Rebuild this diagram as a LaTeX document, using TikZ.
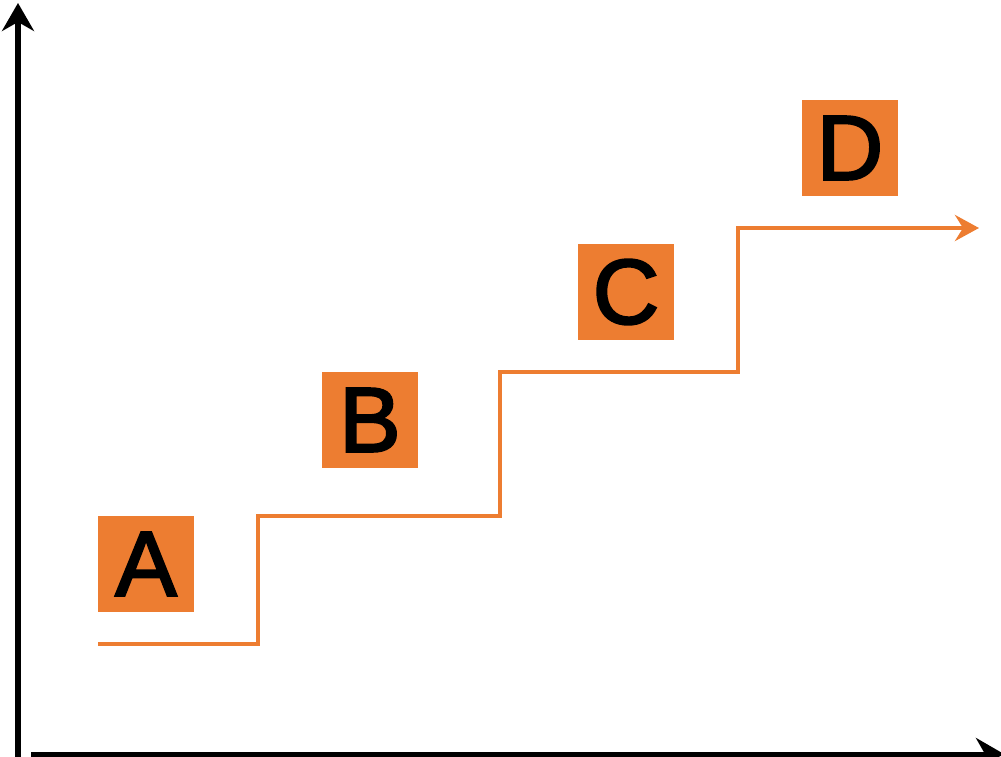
\documentclass[tikz,border=0pt]{standalone}
\usepackage{fontspec}
\setmainfont{Liberation Sans}
\newfontfamily\lblfont[FakeBold=2.5]{Liberation Sans}
\usetikzlibrary{arrows.meta}
\definecolor{orng}{HTML}{ED7D31}
\begin{document}
\begin{tikzpicture}[x=1pt,y=-1pt,
  lbl/.style={fill=orng, minimum size=96pt, inner sep=0pt, font=\lblfont\fontsize{92}{92}\selectfont, text=black},
  stair/.style={draw=orng, line width=4.5pt, miter limit=10, -{Stealth[length=24pt,width=26pt,inset=8pt]}},
  axis/.style={line width=5.5pt, -{Stealth[length=28pt,width=32pt,inset=9pt]}}]
\useasboundingbox (0,0) rectangle (1001,757);
% labels
\node[lbl] (A) at (146,564) {A};
\node[lbl] (B) at (370,420) {B};
\node[lbl] (C) at (626,292) {C};
\node[lbl] (D) at (850,148) {D};
% staircase
\coordinate (s0) at (98,644);
\coordinate (s1) at (258,644);
\coordinate (s2) at (258,516);
\coordinate (s3) at (500,516);
\coordinate (s4) at (500,372);
\coordinate (s5) at (738,372);
\coordinate (s6) at (738,228);
\coordinate (s7) at (979,228);
\draw[stair] (s0) -- (s1) -- (s2) -- (s3) -- (s4) -- (s5) -- (s6) -- (s7);
% axes
\coordinate (yo) at (18,757);
\coordinate (ytop) at (18,3);
\coordinate (xo) at (31,754);
\coordinate (xend) at (1004,754);
\draw[axis] (yo) -- (ytop);
\draw[axis, line width=5pt] (xo) -- (xend);
\end{tikzpicture}
\end{document}
